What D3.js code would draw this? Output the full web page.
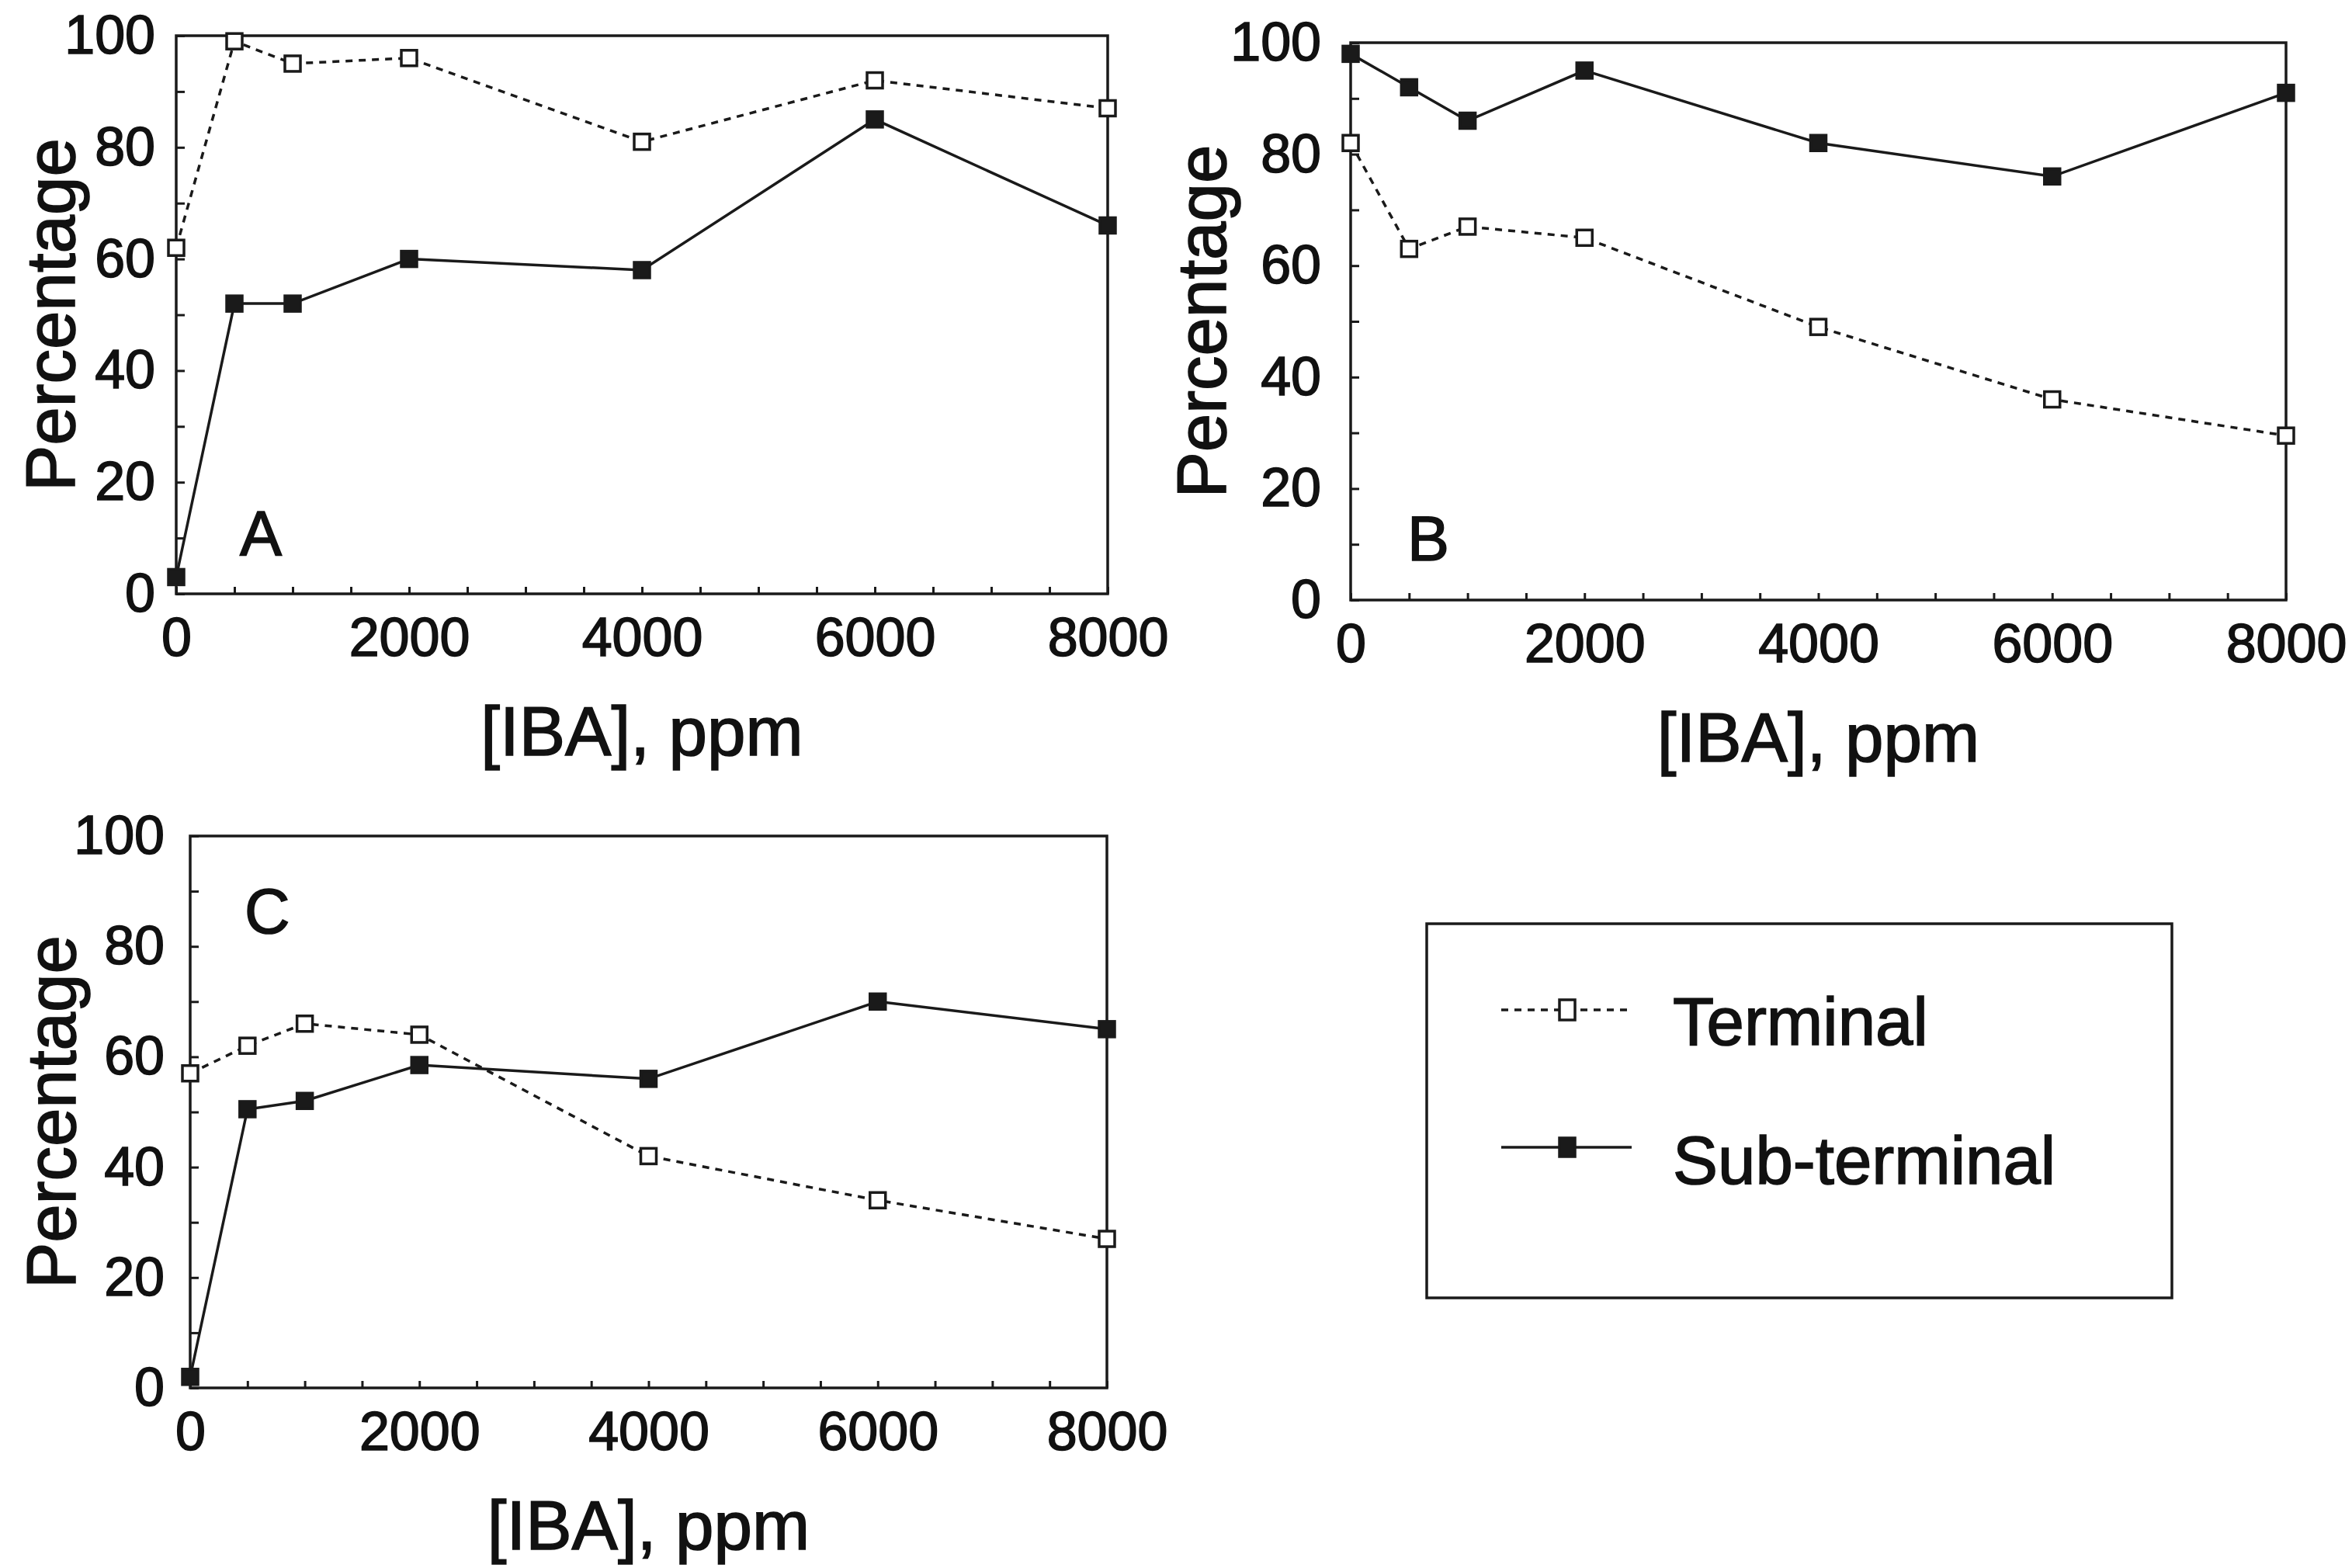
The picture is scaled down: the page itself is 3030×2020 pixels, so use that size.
<!DOCTYPE html>
<html>
<head>
<meta charset="utf-8">
<script src="https://cdn.jsdelivr.net/npm/d3@7"></script>
<style>
  body { margin: 0; background: #fff; }
  svg { display: block; }
  text { font-family: "Liberation Sans", Arial, sans-serif; fill: #111; stroke: #111; stroke-width: 1.6px; }
</style>
</head>
<body>
<svg width="3030" height="2020"></svg>
<script>
// IBA concentration (ppm) and rooting percentages
var iba = [0, 500, 1000, 2000, 4000, 6000, 8000];

var terminalA = [62, 99, 95, 96, 81, 92, 87];
var subTerminalA = [3, 52, 52, 60, 58, 85, 66];

var terminalB = [82, 63, 67, 65, 49, 36, 29.5];
var subTerminalB = [98, 92, 86, 95, 82, 76, 91];

var terminalC = [57, 62, 66, 64, 42, 34, 27];
var subTerminalC = [2, 50.5, 52, 58.5, 56, 70, 65];

var xTicks = d3.range(0, 8001, 500);
var xLabels = [0, 2000, 4000, 6000, 8000];
var yTicks = d3.range(0, 101, 10);
var yLabels = [0, 20, 40, 60, 80, 100];

var seriesNames = ["Terminal", "Sub-terminal"];

var svg = d3.select("svg");
var ink = "#1a1a1a";

// panel layout (pixels)
var panels = [
  { letter: "A", term: terminalA, sub: subTerminalA,
    left: 227, right: 1427, top: 46, bottom: 765,
    yPad: 27, yTitleX: 96, letterX: 309, letterY: 715 },
  { letter: "B", term: terminalB, sub: subTerminalB,
    left: 1740, right: 2945, top: 55, bottom: 773,
    yPad: 38, yTitleX: 1579, letterX: 1813, letterY: 722 },
  { letter: "C", term: terminalC, sub: subTerminalC,
    left: 245, right: 1426, top: 1077, bottom: 1788,
    yPad: 33, yTitleX: 97, letterX: 315, letterY: 1202 }
];

function drawSquare(g, x, y, filled) {
  var s = 20;
  g.append("rect")
    .attr("x", x - s / 2).attr("y", y - s / 2)
    .attr("width", s).attr("height", s)
    .attr("fill", filled ? ink : "#fff")
    .attr("stroke", ink)
    .attr("stroke-width", 3.5);
}

panels.forEach(function(p) {
  var x = d3.scaleLinear().domain([0, 8000]).range([p.left, p.right]);
  var y = d3.scaleLinear().domain([0, 100]).range([p.bottom, p.top]);
  var g = svg.append("g");

  var xAxis = g.append("g")
    .attr("transform", "translate(0," + p.bottom + ")")
    .call(d3.axisBottom(x)
      .tickValues(xTicks)
      .tickSize(-9)
      .tickPadding(30)
      .tickFormat(function(d) { return xLabels.indexOf(d) >= 0 ? d : ""; }));
  xAxis.select(".domain").remove();
  xAxis.selectAll("line").attr("stroke", ink).attr("stroke-width", 3);
  xAxis.selectAll("text").attr("font-size", 70).attr("fill", ink)
    .style("font-family", "'Liberation Sans', Arial, sans-serif");

  var yAxis = g.append("g")
    .attr("transform", "translate(" + p.left + ",0)")
    .call(d3.axisLeft(y)
      .tickValues(yTicks)
      .tickSize(-11)
      .tickPadding(p.yPad)
      .tickFormat(function(d) { return yLabels.indexOf(d) >= 0 ? d : ""; }));
  yAxis.select(".domain").remove();
  yAxis.selectAll("line").attr("stroke", ink).attr("stroke-width", 3);
  yAxis.selectAll("text").attr("font-size", 70).attr("fill", ink)
    .style("font-family", "'Liberation Sans', Arial, sans-serif");

  // frame
  g.append("rect")
    .attr("x", p.left).attr("y", p.top)
    .attr("width", p.right - p.left).attr("height", p.bottom - p.top)
    .attr("fill", "none").attr("stroke", ink).attr("stroke-width", 3.5);

  var line = d3.line()
    .x(function(d, i) { return x(iba[i]); })
    .y(function(d) { return y(d); });

  g.append("path").datum(p.term)
    .attr("d", line).attr("fill", "none")
    .attr("stroke", ink).attr("stroke-width", 3.5)
    .attr("stroke-dasharray", "9,8");
  g.append("path").datum(p.sub)
    .attr("d", line).attr("fill", "none")
    .attr("stroke", ink).attr("stroke-width", 3.5);

  p.term.forEach(function(v, i) { drawSquare(g, x(iba[i]), y(v), false); });
  p.sub.forEach(function(v, i) { drawSquare(g, x(iba[i]), y(v), true); });

  g.append("text")
    .attr("x", p.letterX).attr("y", p.letterY)
    .attr("font-size", 81)
    .text(p.letter);

  g.append("text")
    .attr("x", (p.left + p.right) / 2).attr("y", p.bottom + 208)
    .attr("text-anchor", "middle")
    .attr("font-size", 89)
    .text("[IBA], ppm");

  g.append("text")
    .attr("transform", "translate(" + p.yTitleX + "," + (p.top + p.bottom) / 2 + ") rotate(-90)")
    .attr("text-anchor", "middle")
    .attr("font-size", 89)
    .text("Percentage");
});

// legend
var lg = svg.append("g");
lg.append("rect")
  .attr("x", 1838).attr("y", 1190)
  .attr("width", 960).attr("height", 482)
  .attr("fill", "none").attr("stroke", ink).attr("stroke-width", 3.5);

var legendRows = [
  { name: seriesNames[0], filled: false, dash: "9,8", cy: 1301, ty: 1346 },
  { name: seriesNames[1], filled: true, dash: null, cy: 1478, ty: 1525 }
];
legendRows.forEach(function(r) {
  lg.append("line")
    .attr("x1", 1934).attr("x2", 2102)
    .attr("y1", r.cy).attr("y2", r.cy)
    .attr("stroke", ink).attr("stroke-width", 3.5)
    .attr("stroke-dasharray", r.dash);
  var s = r.filled ? 24 : 26;
  lg.append("rect")
    .attr("x", 2019 - 10).attr("y", r.cy - s / 2)
    .attr("width", 20).attr("height", s)
    .attr("fill", r.filled ? ink : "#fff")
    .attr("stroke", ink).attr("stroke-width", 3.5);
  lg.append("text")
    .attr("x", 2155).attr("y", r.ty)
    .attr("font-size", 87)
    .text(r.name);
});
</script>
</body>
</html>
